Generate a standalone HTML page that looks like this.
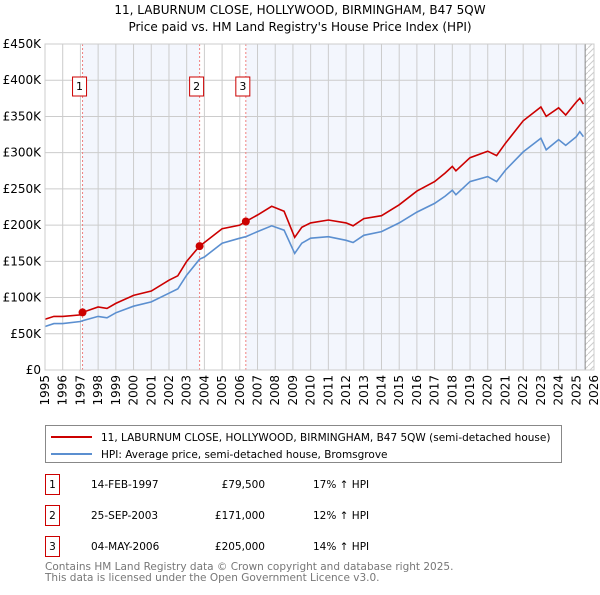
<!DOCTYPE html>
<html><head><meta charset="utf-8"><style>
body{margin:0;background:#fff;font-family:"Liberation Sans","DejaVu Sans",sans-serif;}
svg text{font-family:"DejaVu Sans","Liberation Sans",sans-serif;}
</style></head><body>
<svg id="chart" width="600" height="590" xmlns="http://www.w3.org/2000/svg">
<text x="300" y="14" text-anchor="middle" font-size="12" fill="#000">11, LABURNUM CLOSE, HOLLYWOOD, BIRMINGHAM, B47 5QW</text>
<text x="300" y="31" text-anchor="middle" font-size="12" fill="#000">Price paid vs. HM Land Registry's House Price Index (HPI)</text>
<g id="plot"></g>
<g>
<rect x="45.5" y="425.5" width="516" height="37" fill="#fff" stroke="#888"/>
<line x1="51" y1="437" x2="92" y2="437" stroke="#cc0000" stroke-width="2"/>
<text x="101" y="441" font-size="10.5">11, LABURNUM CLOSE, HOLLYWOOD, BIRMINGHAM, B47 5QW (semi-detached house)</text>
<line x1="51" y1="454" x2="92" y2="454" stroke="#5b8fd0" stroke-width="2"/>
<text x="101" y="458" font-size="10.5">HPI: Average price, semi-detached house, Bromsgrove</text>
</g>
<g font-size="10.5">
<rect x="45.5" y="474.5" width="14" height="20" fill="none" stroke="#cc0000"/><text x="52.5" y="488" text-anchor="middle">1</text>
<text x="91" y="488">14-FEB-1997</text><text x="265" y="488" text-anchor="end">£79,500</text><text x="313" y="488">17% ↑ HPI</text>
<rect x="45.5" y="505.5" width="14" height="20" fill="none" stroke="#cc0000"/><text x="52.5" y="519" text-anchor="middle">2</text>
<text x="91" y="519">25-SEP-2003</text><text x="265" y="519" text-anchor="end">£171,000</text><text x="313" y="519">12% ↑ HPI</text>
<rect x="45.5" y="536.5" width="14" height="20" fill="none" stroke="#cc0000"/><text x="52.5" y="550" text-anchor="middle">3</text>
<text x="91" y="550">04-MAY-2006</text><text x="265" y="550" text-anchor="end">£205,000</text><text x="313" y="550">14% ↑ HPI</text>
</g>
<text x="45" y="570" font-size="10.5" fill="#777">Contains HM Land Registry data © Crown copyright and database right 2025.</text>
<text x="45" y="581" font-size="10.5" fill="#777">This data is licensed under the Open Government Licence v3.0.</text>
</svg>
<script>
const dates=[1995.0,1995.5,1996.0,1997.0,1997.12,1998.0,1998.5,1999.0,2000.0,2001.0,2002.0,2002.5,2003.0,2003.73,2004.0,2005.0,2006.0,2006.34,2007.0,2007.8,2008.5,2009.1,2009.5,2010.0,2011.0,2012.0,2012.4,2013.0,2014.0,2015.0,2016.0,2017.0,2017.6,2018.0,2018.2,2019.0,2020.0,2020.5,2021.0,2022.0,2023.0,2023.3,2024.0,2024.4,2025.0,2025.2,2025.4];
const hpiValues=[60,64,64,67,68,74,72,79,88,94,106,112,131,153,156,175,182,184,191,199,193,161,175,182,184,179,176,186,191,203,218,230,240,248,242,260,267,260,276,301,320,304,318,310,322,329,322];
const priceValues=[70,74,74,76,79.5,87,85,92,103,109,124,130,150,171,176,195,200,205,214,226,219,183,197,203,207,203,199,209,213,228,247,260,272,281,275,293,302,296,313,344,363,350,362,352,370,375,367];
const saleDates=[1997.12,2003.73,2006.34];
const salePrices=[79.5,171,205];
const saleLabels=["1","2","3"];
const yTicks=[0,50,100,150,200,250,300,350,400,450];
const yTickLabels=["£0","£50K","£100K","£150K","£200K","£250K","£300K","£350K","£400K","£450K"];
const xYears=[1995,1996,1997,1998,1999,2000,2001,2002,2003,2004,2005,2006,2007,2008,2009,2010,2011,2012,2013,2014,2015,2016,2017,2018,2019,2020,2021,2022,2023,2024,2025,2026];
const dataEnd=2025.5;

const X0=45,X1=594,Y0=370,Y1=44;
const xs=y=>X0+(y-1995)/(2026-1995)*(X1-X0);
const ys=v=>Y0-v/450*(Y0-Y1);
const NS="http://www.w3.org/2000/svg";
const g=document.getElementById('plot');
function mk(t,a,p){const e=document.createElementNS(NS,t);for(const k in a)e.setAttribute(k,a[k]);(p||g).appendChild(e);return e;}

let sh=mk('rect',{x:xs(saleDates[0]),y:Y1,width:xs(saleDates[1])-xs(saleDates[0]),height:Y0-Y1,fill:'#f3f6fd'});


sh=mk('rect',{x:xs(saleDates[2]),y:Y1,width:xs(dataEnd)-xs(saleDates[2]),height:Y0-Y1,fill:'#f3f6fd'});


const defs=mk('defs',{});
const pat=mk('pattern',{id:'hatch',width:6,height:6,patternUnits:'userSpaceOnUse'},defs);
mk('path',{d:'M0,6 L6,0',stroke:'#ccc','stroke-width':1},pat);
const ht=mk('rect',{x:xs(dataEnd),y:Y1,width:X1-xs(dataEnd),height:Y0-Y1,fill:'url(#hatch)'});


yTicks.forEach((v,i)=>{
  const l=mk('line',{x1:X0,x2:X1,y1:ys(v),y2:ys(v),stroke:'#ccc','stroke-width':1});
  
  
  const t=mk('text',{x:X0-4,y:ys(v)+4,'text-anchor':'end','font-size':12});
  t.textContent=yTickLabels[i];
  
  
});
xYears.forEach(yr=>{
  const l=mk('line',{x1:xs(yr),x2:xs(yr),y1:Y1,y2:Y0,stroke:'#ccc','stroke-width':1});
  
  
  const t=mk('text',{x:0,y:0,'text-anchor':'end','font-size':12,transform:`translate(${xs(yr)+4},${Y0+5}) rotate(-90)`});
  t.textContent=yr;
  
  
});
mk('line',{x1:xs(dataEnd),x2:xs(dataEnd),y1:Y1,y2:Y0,stroke:'#888'});
saleDates.forEach((d,i)=>{
  const l=mk('line',{x1:xs(d),x2:xs(d),y1:Y1,y2:Y0,stroke:'#f08080','stroke-dasharray':'2,2','stroke-width':1});
  
  
  const bx=xs(d)-3;
  const r=mk('rect',{x:bx-7,y:77,width:14,height:19,fill:'#fff',stroke:'#cc0000'});
  
  
  const t=mk('text',{x:bx,y:90,'text-anchor':'middle','font-size':11});
  t.textContent=saleLabels[i];
  
  
});
function path(vals){return vals.map((v,i)=>(i?'L':'M')+xs(dates[i]).toFixed(1)+','+ys(v).toFixed(1)).join(' ');}
const hp=mk('path',{d:path(hpiValues),fill:'none',stroke:'#5b8fd0','stroke-width':1.6});


const pp=mk('path',{d:path(priceValues),fill:'none',stroke:'#cc0000','stroke-width':1.6});


saleDates.forEach((d,i)=>{
  const c=mk('circle',{cx:xs(d),cy:ys(salePrices[i]),r:4,fill:'#cc0000'});
  
  
});
mk('rect',{x:X0,y:Y1,width:X1-X0,height:Y0-Y1,fill:'none',stroke:'#ccc'});
</script>
</body></html>
